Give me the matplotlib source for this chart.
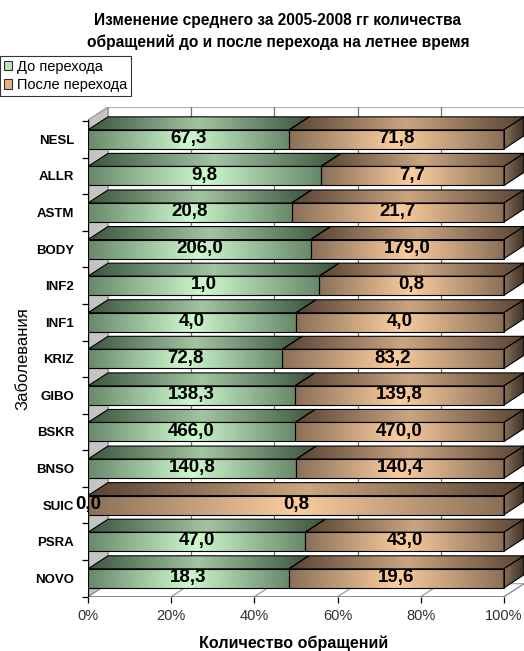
import numpy as np
import matplotlib
matplotlib.use("Agg")
import matplotlib.pyplot as plt
from matplotlib.colors import LinearSegmentedColormap
from matplotlib.patches import Polygon, Patch

plt.rcParams['font.family'] = ['Liberation Sans', 'DejaVu Sans']

# ---- data -------------------------------------------------------------
categories = ["NESL", "ALLR", "ASTM", "BODY", "INF2", "INF1", "KRIZ",
              "GIBO", "BSKR", "BNSO", "SUIC", "PSRA", "NOVO"]
before = [67.3, 9.8, 20.8, 206.0, 1.0, 4.0, 72.8, 138.3, 466.0, 140.8, 0.0, 47.0, 18.3]
after = [71.8, 7.7, 21.7, 179.0, 0.8, 4.0, 83.2, 139.8, 470.0, 140.4, 0.8, 43.0, 19.6]
series_names = ["До перехода", "После перехода"]
x_ticks = [0, 20, 40, 60, 80, 100]
x_tick_labels = ["0%", "20%", "40%", "60%", "80%", "100%"]
title_lines = ["Изменение среднего за 2005-2008 гг количества",
               "обращений до и после перехода на летнее время"]
x_label = "Количество обращений"
y_label = "Заболевания"

# ---- layout (pixels) -------------------------------------------------
W, H = 524, 651
X0_PX, X100_PX = 88, 504          # front plane 0% and 100%
PITCH_PX = 36.58                  # distance between bar rows
DEPTH_X_PX, DEPTH_Y_PX = 20, 13   # 3-D depth offset
FLOOR_PX, TOP_PX = 596.7, 107     # front floor edge, top of back wall
ROW0_PX = 578.3                   # centre of the lowest bar's front face

px_x = (X100_PX - X0_PX) / 100.0
DX = DEPTH_X_PX / px_x
DY = DEPTH_Y_PX / PITCH_PX
BAR_H = 0.52
YLO = -(FLOOR_PX - ROW0_PX) / PITCH_PX
YTOP = (ROW0_PX - TOP_PX) / PITCH_PX

fig = plt.figure(figsize=(W / 100, H / 100), dpi=100)
ax = fig.add_axes([X0_PX / W, (H - FLOOR_PX) / H,
                   (W - X0_PX) / W, (FLOOR_PX - TOP_PX) / H])
ax.set_xlim(0, 100 + DX)
ax.set_ylim(YLO, YTOP)
for s in ax.spines.values():
    s.set_visible(False)


def cmap3(edge, mid):
    return LinearSegmentedColormap.from_list("g", [edge, mid, edge])


front_cmaps = [cmap3("#68886a", "#cdf8cd"), cmap3("#8a7057", "#fbcd9f")]
top_cmaps = [cmap3("#3b553d", "#a3c4a3"), cmap3("#584333", "#cba581")]
side_cmap = LinearSegmentedColormap.from_list("s", ["#86705a", "#3d3024"])
grad = np.linspace(0, 1, 256)[None, :]


def gradient_poly(verts, cmap, z):
    poly = Polygon(verts, closed=True, facecolor="none", edgecolor="black",
                   lw=0.8, zorder=z + 0.1, joinstyle="miter")
    ax.add_patch(poly)
    xs = [v[0] for v in verts]
    ys = [v[1] for v in verts]
    im = ax.imshow(grad, cmap=cmap, extent=(min(xs), max(xs), min(ys), max(ys)),
                   aspect="auto", origin="lower", interpolation="bilinear", zorder=z)
    im.set_clip_path(poly)


# ---- walls and floor ---------------------------------------------------
ax.add_patch(Polygon([(DX, YLO + DY), (100 + DX, YLO + DY), (100 + DX, YTOP), (DX, YTOP)],
                     closed=True, facecolor="white", edgecolor="#b0b0b0", lw=0.8, zorder=0))
for xt in x_ticks[1:-1]:
    ax.plot([xt + DX, xt + DX], [YLO + DY, YTOP], color="#707070", lw=0.9, zorder=0.5)
ax.add_patch(Polygon([(0, YLO), (DX, YLO + DY), (DX, YTOP), (0, YTOP - DY)],
                     closed=True, facecolor="#c4c4c4", edgecolor="#909090", lw=0.8, zorder=0.6))
ax.add_patch(Polygon([(0, YLO), (100, YLO), (100 + DX, YLO + DY), (DX, YLO + DY)],
                     closed=True, facecolor="white", edgecolor="#a0a0a0", lw=0.8, zorder=0.6))
for xt in x_ticks:
    ax.plot([xt, xt + DX], [YLO, YLO + DY], color="#909090", lw=0.8, zorder=0.7)
ax.plot([0, 100], [YLO, YLO], color="black", lw=1.0, zorder=0.8)
ax.plot([0, 0], [YLO, YTOP - DY], color="black", lw=1.0, zorder=0.8)

# ---- bars ------------------------------------------------------------
n = len(categories)
rows = np.arange(n)[::-1]
for i in range(n):
    y = rows[i]
    tot = before[i] + after[i]
    shares = [before[i] / tot * 100, after[i] / tot * 100]
    vals = [before[i], after[i]]
    yb, yt = y - BAR_H / 2, y + BAR_H / 2
    left = 0.0
    z = 2 + (n - i) * 0.01
    for k in range(2):
        w = shares[k]
        x0, x1 = left, left + w
        if w > 0:
            gradient_poly([(x0, yt), (x1, yt), (x1 + DX, yt + DY), (x0 + DX, yt + DY)],
                          top_cmaps[k], z)
            gradient_poly([(x0, yb), (x1, yb), (x1, yt), (x0, yt)], front_cmaps[k], z + 0.2)
        ax.text((x0 + x1) / 2, y + 0.02, f"{vals[k]:.1f}".replace(".", ","),
                ha="center", va="center", fontsize=13.5, fontweight="bold",
                color="black", zorder=5)
        left = x1
    gradient_poly([(100, yb), (100 + DX, yb + DY), (100 + DX, yt + DY), (100, yt)],
                  side_cmap, z + 0.3)

# ---- axes decorations --------------------------------------------------
ax.set_xticks(x_ticks)
ax.set_xticklabels(x_tick_labels, fontsize=10.5, color="#303030")
ax.tick_params(axis="x", length=4, width=0.9, color="black", pad=5)
ax.set_yticks(rows)
ax.set_yticklabels(categories, fontsize=9.5, fontweight="bold")
ax.tick_params(axis="y", which="major", length=0, pad=10)
ax.set_yticks(np.arange(-0.5, n, 1.0), minor=True)
ax.tick_params(axis="y", which="minor", length=4, width=0.9, color="black")
ax.set_xlim(0, 100 + DX)
ax.set_ylim(YLO, YTOP)

fig.text(278 / W, 1 - 20 / H, title_lines[0], ha="center", va="center",
         fontsize=11.2, fontweight="bold")
fig.text(278 / W, 1 - 42 / H, title_lines[1], ha="center", va="center",
         fontsize=11.2, fontweight="bold")
fig.text(294 / W, 1 - 643 / H, x_label, ha="center", va="center",
         fontsize=11.6, fontweight="bold")
fig.text(23 / W, 1 - 359 / H, y_label, ha="center", va="center",
         fontsize=12, rotation=90)

handles = [Patch(facecolor="#b8e8b8", edgecolor="#303030", lw=0.8),
           Patch(facecolor="#eeb07c", edgecolor="#303030", lw=0.8)]
leg = fig.legend(handles, series_names, loc="upper left",
                 bbox_to_anchor=(0.0, 1 - 56 / H), frameon=True, fancybox=False,
                 edgecolor="black", fontsize=10.5, handlelength=0.6, handleheight=0.6,
                 handletextpad=0.3, borderpad=0.25, labelspacing=0.3, borderaxespad=0)
leg.get_frame().set_linewidth(0.8)

fig.savefig("out.png", dpi=100)
